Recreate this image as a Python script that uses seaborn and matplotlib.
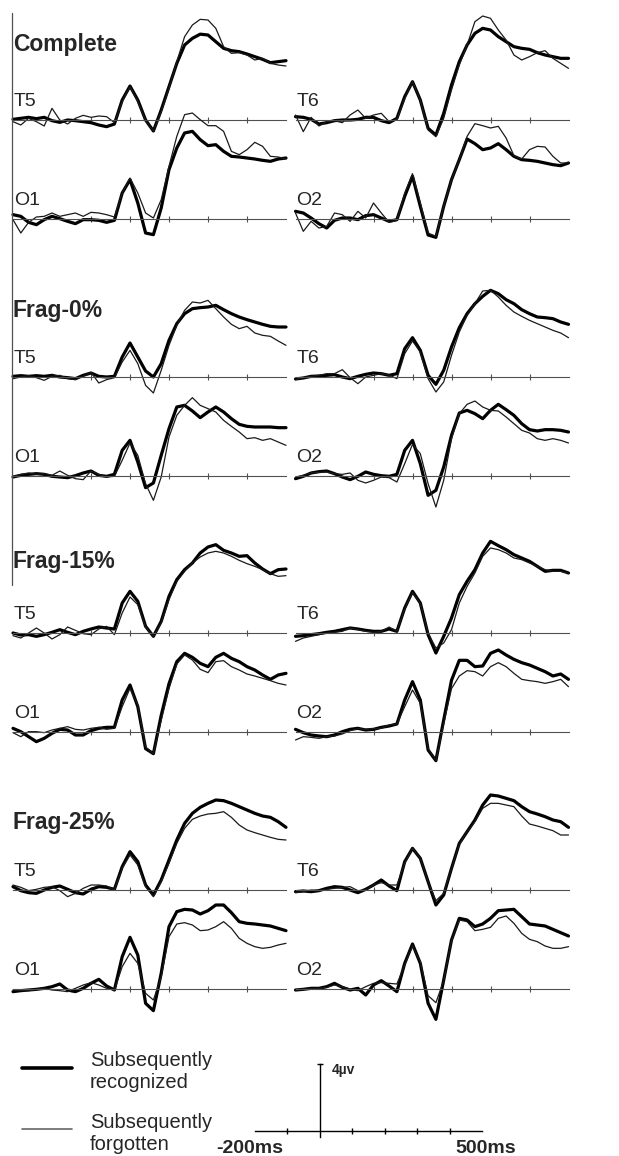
import matplotlib
matplotlib.use("Agg")
import matplotlib.pyplot as plt
import seaborn as sns
from matplotlib.lines import Line2D

# ---------------- data (amplitudes in µV, time in ms) ----------------
times = [-200, -180, -160, -140, -120, -100, -80, -60, -40, -20, 0, 20, 40, 60, 80, 100,
         120, 140, 160, 180, 200, 220, 240, 260, 280, 300, 320, 340, 360, 380, 400, 420,
         440, 460, 480, 500]
conditions = ["Complete", "Frag-0%", "Frag-15%", "Frag-25%"]
electrodes = ["T5", "T6", "O1", "O2"]
legend_labels = ["Subsequently\nrecognized", "Subsequently\nforgotten"]
scale_labels = ["-200ms", "500ms", "4µv"]

complete_T5_rec = [0.04, 0.1, 0.16, 0.08, 0.16, -0.04, -0.14, 0.0, -0.04, -0.1, -0.16, -0.3, -0.4, -0.24, 1.2, 2.04, 1.2, 0.0, -0.66, 0.6, 2.0, 3.4, 4.5, 4.9, 5.15, 5.1, 4.7, 4.3, 4.16, 4.1, 3.96, 3.8, 3.64, 3.44, 3.5, 3.56]
complete_T5_forg = [-0.1, -0.3, 0.1, -0.1, -0.36, 0.7, 0.0, -0.24, 0.1, 0.28, 0.16, 0.24, 0.2, -0.16, 1.1, 2.0, 1.1, -0.04, -0.66, 0.5, 1.9, 3.5, 5.0, 5.7, 6.04, 6.0, 5.5, 4.4, 4.0, 4.04, 3.9, 3.6, 3.7, 3.4, 3.3, 3.24]
complete_O1_rec = [0.26, 0.16, -0.2, -0.34, -0.04, 0.16, 0.02, -0.14, -0.28, -0.04, -0.04, -0.08, -0.2, -0.08, 1.56, 2.36, 0.96, -0.84, -0.94, 0.66, 2.96, 4.26, 5.16, 5.26, 4.76, 4.4, 4.46, 4.06, 3.76, 3.72, 3.66, 3.6, 3.52, 3.46, 3.6, 3.66]
complete_O1_forg = [-0.04, -0.84, -0.2, 0.12, 0.16, 0.36, 0.16, 0.26, 0.36, 0.16, 0.4, 0.36, 0.26, 0.12, 1.56, 2.46, 1.56, 0.36, 0.06, 1.16, 3.16, 4.96, 6.26, 6.36, 5.96, 5.6, 5.6, 5.26, 4.06, 3.86, 4.16, 4.6, 4.36, 3.76, 3.72, 3.6]
complete_T6_rec = [0.2, 0.16, 0.04, -0.24, -0.16, -0.04, 0.0, 0.0, 0.04, 0.16, 0.16, -0.04, -0.16, 0.1, 1.4, 2.3, 1.2, -0.5, -0.9, 0.4, 2.1, 3.5, 4.5, 5.2, 5.5, 5.4, 5.0, 4.7, 4.4, 4.3, 4.24, 4.04, 3.9, 3.8, 3.7, 3.7]
complete_T6_forg = [0.3, -0.7, 0.16, -0.36, -0.1, -0.04, -0.16, 0.3, 0.6, 0.1, 0.3, 0.4, -0.1, 0.04, 1.3, 2.3, 1.2, -0.6, -1.0, 0.1, 1.8, 3.3, 4.5, 5.9, 6.24, 6.1, 5.4, 4.8, 3.9, 3.6, 3.8, 4.04, 4.16, 3.7, 3.4, 3.1]
complete_O2_rec = [0.46, 0.36, 0.06, -0.28, -0.54, -0.08, 0.06, 0.06, -0.04, 0.2, 0.26, 0.06, -0.14, -0.04, 1.36, 2.56, 0.76, -0.96, -1.1, 0.76, 2.36, 3.56, 4.8, 4.52, 4.16, 4.26, 4.52, 4.16, 3.76, 3.56, 3.52, 3.46, 3.36, 3.26, 3.2, 3.36]
complete_O2_forg = [0.36, -0.74, -0.14, -0.54, -0.44, 0.36, 0.26, -0.14, 0.46, 0.06, 0.96, 0.36, -0.2, -0.08, 1.56, 2.72, 0.96, -0.84, -1.04, 0.76, 2.36, 3.56, 4.96, 5.72, 5.6, 5.46, 5.56, 4.86, 3.8, 3.6, 4.16, 4.36, 4.32, 3.76, 3.36, 3.36]

frag0_T5_rec = [0.04, 0.08, 0.04, 0.08, 0.04, 0.1, 0.0, -0.04, -0.1, 0.1, 0.24, 0.04, 0.0, 0.04, 1.2, 2.04, 1.2, 0.36, 0.0, 0.8, 2.2, 3.2, 3.8, 4.1, 4.16, 4.2, 4.3, 4.04, 3.8, 3.6, 3.44, 3.3, 3.16, 3.04, 3.0, 3.0]
frag0_T5_forg = [-0.1, 0.0, 0.08, -0.04, -0.2, 0.04, 0.1, -0.1, -0.16, 0.04, 0.28, -0.36, -0.16, -0.04, 0.9, 1.6, 0.8, -0.5, -0.96, 0.4, 1.9, 3.1, 4.0, 4.5, 4.44, 4.6, 4.1, 3.6, 3.16, 2.9, 3.04, 2.64, 2.5, 2.44, 2.16, 1.9]
frag0_O1_rec = [-0.06, 0.04, 0.1, 0.14, 0.1, -0.02, -0.06, -0.1, 0.02, 0.18, 0.3, 0.04, -0.02, 0.1, 1.54, 2.14, 0.84, -0.7, -0.42, 1.24, 2.84, 4.14, 4.24, 3.9, 3.5, 3.84, 4.14, 3.84, 3.44, 3.1, 2.98, 2.94, 2.94, 2.94, 2.9, 2.9]
frag0_O1_forg = [-0.06, 0.1, 0.18, 0.1, 0.14, 0.04, 0.3, 0.04, -0.16, -0.22, 0.3, 0.1, -0.06, -0.02, 0.94, 1.98, 1.24, -0.46, -1.46, -0.06, 2.34, 3.64, 4.24, 4.7, 4.24, 4.04, 3.84, 3.34, 2.98, 2.64, 2.24, 2.3, 2.14, 2.24, 2.04, 1.84]
frag0_T6_rec = [-0.12, -0.06, 0.04, 0.06, 0.1, 0.14, 0.0, -0.1, 0.04, 0.16, 0.24, 0.2, 0.1, 0.2, 1.7, 2.36, 1.6, 0.1, -0.44, 0.4, 1.8, 2.96, 3.8, 4.4, 4.84, 5.2, 5.0, 4.64, 4.4, 4.04, 3.8, 3.6, 3.56, 3.5, 3.3, 3.16]
frag0_T6_forg = [-0.16, -0.04, 0.04, 0.1, 0.2, 0.2, 0.44, -0.04, -0.4, 0.0, 0.1, 0.2, 0.12, -0.1, 1.4, 2.16, 1.5, -0.1, -0.9, -0.3, 1.3, 2.7, 3.7, 4.4, 5.16, 5.2, 4.8, 4.3, 3.9, 3.64, 3.4, 3.2, 3.0, 2.8, 2.64, 2.36]
frag0_O2_rec = [-0.16, -0.02, 0.18, 0.26, 0.3, 0.14, -0.06, -0.22, -0.02, 0.24, 0.1, 0.02, -0.02, 0.1, 1.54, 2.14, 0.74, -1.16, -0.86, 0.54, 2.44, 3.78, 3.94, 3.74, 3.44, 3.94, 4.3, 3.98, 3.64, 3.14, 2.78, 2.7, 2.78, 2.78, 2.74, 2.64]
frag0_O2_forg = [-0.06, 0.04, 0.18, 0.22, 0.24, 0.14, 0.1, 0.18, -0.26, -0.42, -0.26, -0.06, -0.1, -0.36, 0.74, 1.9, 1.34, -0.46, -1.86, -0.26, 2.24, 3.74, 4.3, 4.5, 4.14, 3.94, 3.9, 3.54, 3.14, 2.74, 2.58, 2.24, 2.14, 2.24, 2.14, 1.98]

frag15_T5_rec = [0.0, -0.12, -0.1, -0.2, -0.1, 0.04, 0.2, 0.04, -0.1, 0.1, 0.24, 0.36, 0.3, 0.24, 1.8, 2.5, 1.9, 0.4, -0.2, 0.7, 2.2, 3.2, 3.8, 4.2, 4.8, 5.16, 5.3, 4.96, 4.8, 4.6, 4.64, 4.2, 3.84, 3.56, 3.8, 3.84]
frag15_T5_forg = [-0.16, -0.3, 0.0, 0.3, 0.0, -0.36, -0.1, 0.36, 0.16, -0.04, -0.1, 0.24, 0.4, -0.1, 1.2, 2.16, 1.7, 0.36, -0.2, 0.6, 2.0, 3.1, 3.7, 4.2, 4.56, 4.8, 4.9, 4.8, 4.6, 4.36, 4.16, 4.0, 3.8, 3.56, 3.4, 3.44]
frag15_O1_rec = [0.22, 0.02, -0.28, -0.58, -0.38, -0.08, 0.16, 0.12, -0.18, -0.18, 0.08, 0.22, 0.28, 0.28, 1.92, 2.82, 1.52, -1.0, -1.3, 1.0, 2.9, 4.22, 4.72, 4.48, 4.12, 3.92, 4.48, 4.72, 4.42, 4.22, 3.92, 3.72, 3.42, 3.16, 3.42, 3.52]
frag15_O1_forg = [-0.04, -0.28, 0.02, 0.02, -0.04, 0.12, 0.22, 0.32, 0.16, 0.12, 0.22, 0.28, 0.16, 0.22, 1.52, 2.62, 1.62, -0.9, -1.3, 0.7, 2.6, 4.08, 4.62, 4.32, 3.76, 3.56, 4.22, 4.28, 3.92, 3.72, 3.48, 3.36, 3.22, 3.08, 2.92, 2.82]
frag15_T6_rec = [-0.2, -0.16, -0.1, -0.04, 0.04, 0.1, 0.2, 0.3, 0.24, 0.16, 0.1, 0.1, 0.24, 0.1, 1.5, 2.5, 1.8, -0.1, -1.2, -0.2, 0.9, 2.3, 3.1, 3.8, 4.8, 5.5, 5.24, 5.0, 4.7, 4.5, 4.3, 4.0, 3.7, 3.76, 3.76, 3.6]
frag15_T6_forg = [-0.5, -0.3, -0.2, -0.1, 0.0, 0.04, 0.1, 0.3, 0.2, 0.1, 0.04, 0.1, 0.36, 0.1, 1.44, 2.44, 1.76, 0.0, -0.9, -0.6, 0.2, 1.8, 2.8, 3.6, 4.6, 5.1, 5.0, 4.8, 4.5, 4.4, 4.2, 4.0, 3.8, 3.7, 3.7, 3.6]
frag15_O2_rec = [0.16, -0.04, -0.18, -0.24, -0.28, -0.18, 0.02, 0.16, 0.22, 0.12, 0.16, 0.28, 0.36, 0.48, 1.92, 3.02, 1.92, -1.08, -1.72, 0.72, 3.1, 4.3, 4.3, 3.92, 3.96, 4.72, 4.92, 4.62, 4.36, 4.16, 4.02, 3.82, 3.62, 3.36, 3.48, 3.16]
frag15_O2_forg = [-0.48, -0.28, -0.32, -0.38, -0.28, -0.24, -0.12, 0.08, 0.2, 0.16, 0.2, 0.22, 0.42, 0.48, 1.52, 2.52, 1.72, -1.0, -1.72, 0.5, 2.6, 3.36, 3.68, 3.62, 3.36, 3.92, 4.16, 3.92, 3.52, 3.16, 3.08, 3.02, 2.92, 3.02, 3.16, 2.72]

frag25_T5_rec = [0.2, -0.04, -0.16, -0.2, 0.0, 0.16, 0.24, 0.04, -0.16, -0.24, 0.04, 0.2, 0.16, 0.04, 1.4, 2.3, 1.7, 0.3, -0.3, 0.6, 1.8, 3.0, 4.0, 4.6, 4.96, 5.2, 5.4, 5.36, 5.2, 5.0, 4.8, 4.6, 4.44, 4.36, 4.1, 3.76]
frag25_T5_forg = [0.3, 0.16, -0.04, 0.04, 0.16, 0.2, -0.04, -0.4, -0.2, 0.1, 0.3, 0.3, 0.24, 0.0, 1.3, 2.1, 1.5, 0.2, -0.4, 0.5, 1.6, 2.8, 3.7, 4.24, 4.44, 4.56, 4.6, 4.7, 4.36, 3.9, 3.6, 3.44, 3.3, 3.16, 3.04, 3.0]
frag25_O1_rec = [-0.16, -0.1, -0.06, -0.02, 0.04, 0.14, 0.3, -0.06, -0.16, 0.04, 0.34, 0.58, 0.18, -0.06, 1.94, 3.1, 2.04, -0.86, -1.3, 0.94, 3.74, 4.64, 4.78, 4.74, 4.5, 4.7, 5.04, 5.04, 4.58, 4.04, 3.94, 3.9, 3.84, 3.78, 3.64, 3.5]
frag25_O1_forg = [-0.06, -0.1, -0.1, -0.02, 0.04, -0.06, -0.1, -0.16, 0.04, 0.24, 0.38, 0.24, 0.04, -0.06, 1.34, 2.14, 1.54, -0.26, -0.66, 0.74, 3.14, 3.9, 3.98, 3.84, 3.5, 3.54, 3.74, 4.04, 3.64, 3.04, 2.74, 2.54, 2.44, 2.5, 2.64, 2.74]
frag25_T6_rec = [-0.1, -0.06, -0.1, -0.04, 0.1, 0.2, 0.16, 0.0, -0.16, 0.04, 0.3, 0.6, 0.24, -0.04, 1.7, 2.5, 1.9, 0.5, -0.9, -0.3, 1.3, 2.8, 3.5, 4.2, 5.1, 5.7, 5.64, 5.5, 5.36, 5.0, 4.7, 4.56, 4.4, 4.2, 4.1, 3.76]
frag25_T6_forg = [-0.16, -0.1, 0.0, -0.04, 0.04, 0.1, 0.16, 0.2, -0.04, 0.0, 0.3, 0.44, 0.3, 0.3, 1.6, 2.5, 1.9, 0.5, -0.64, -0.2, 1.3, 2.76, 3.5, 4.1, 4.9, 5.2, 5.2, 5.1, 5.0, 4.44, 3.96, 3.84, 3.7, 3.56, 3.3, 3.3]
frag25_O2_rec = [-0.06, -0.02, 0.04, 0.04, 0.14, 0.34, 0.1, -0.06, 0.04, -0.36, 0.24, 0.5, 0.18, -0.16, 1.54, 2.7, 1.54, -0.86, -1.82, 0.54, 2.94, 4.24, 4.14, 3.74, 3.9, 4.24, 4.7, 4.74, 4.78, 4.34, 3.9, 3.84, 3.78, 3.58, 3.38, 3.18]
frag25_O2_forg = [-0.06, -0.02, 0.02, 0.04, 0.1, 0.24, 0.14, -0.02, -0.1, 0.14, 0.34, 0.38, 0.34, 0.3, 1.44, 2.6, 1.64, -0.4, -0.82, 0.5, 2.9, 4.14, 4.04, 3.5, 3.58, 3.7, 4.24, 4.38, 3.94, 3.34, 2.98, 2.84, 2.58, 2.44, 2.44, 2.54]

waves = {
    ("Complete", "T5"): (complete_T5_rec, complete_T5_forg),
    ("Complete", "O1"): (complete_O1_rec, complete_O1_forg),
    ("Complete", "T6"): (complete_T6_rec, complete_T6_forg),
    ("Complete", "O2"): (complete_O2_rec, complete_O2_forg),
    ("Frag-0%", "T5"): (frag0_T5_rec, frag0_T5_forg),
    ("Frag-0%", "O1"): (frag0_O1_rec, frag0_O1_forg),
    ("Frag-0%", "T6"): (frag0_T6_rec, frag0_T6_forg),
    ("Frag-0%", "O2"): (frag0_O2_rec, frag0_O2_forg),
    ("Frag-15%", "T5"): (frag15_T5_rec, frag15_T5_forg),
    ("Frag-15%", "O1"): (frag15_O1_rec, frag15_O1_forg),
    ("Frag-15%", "T6"): (frag15_T6_rec, frag15_T6_forg),
    ("Frag-15%", "O2"): (frag15_O2_rec, frag15_O2_forg),
    ("Frag-25%", "T5"): (frag25_T5_rec, frag25_T5_forg),
    ("Frag-25%", "O1"): (frag25_O1_rec, frag25_O1_forg),
    ("Frag-25%", "T6"): (frag25_T6_rec, frag25_T6_forg),
    ("Frag-25%", "O2"): (frag25_O2_rec, frag25_O2_forg),
}

# ---------------- style / layout ----------------
sns.set_style("white")
plt.rcParams["font.family"] = ["Liberation Sans", "DejaVu Sans"]

W, H = 619, 1156
fig = plt.figure(figsize=(W / 100, H / 100), dpi=100)


def fx(px):
    return px / W


def fy(py):
    return 1 - py / H


row_T_base = [120, 377, 633, 890]
row_gap = 99
cond_label_y = [45, 310, 561, 822]
col_x0 = {"T5": 13, "O1": 13, "T6": 295.5, "O2": 295.5}
panel_w = 273
above, below = 120, 40          # pixels above / below the baseline
uv_per_px = 0.06
AX_GRAY = "#505050"

for ci, cond in enumerate(conditions):
    tb = row_T_base[ci]
    fig.text(fx(13), fy(cond_label_y[ci]), cond, fontsize=16.5, fontweight="bold",
             ha="left", va="center")
    for el in electrodes:
        base = tb if el in ("T5", "T6") else tb + row_gap
        x0 = col_x0[el]
        ax = fig.add_axes([fx(x0), fy(base + below), panel_w / W, (above + below) / H])
        ax.patch.set_visible(False)
        ax.set_xlim(-200, 500)
        ax.set_ylim(-below * uv_per_px, above * uv_per_px)
        rec, forg = waves[(cond, el)]
        sns.lineplot(x=times, y=rec, ax=ax, color="black", linewidth=2.3,
                     estimator=None, sort=False, clip_on=False)
        sns.lineplot(x=times, y=forg, ax=ax, color="#1a1a1a", linewidth=0.9,
                     estimator=None, sort=False, clip_on=False)
        ax.set_xlabel("")
        ax.set_ylabel("")
        for s in ("left", "right", "top"):
            ax.spines[s].set_visible(False)
        ax.spines["bottom"].set_position(("data", 0))
        ax.spines["bottom"].set_color(AX_GRAY)
        ax.spines["bottom"].set_linewidth(0.8)
        ax.set_xticks([0, 100, 200, 300, 400])
        ax.set_yticks([])
        ax.tick_params(axis="x", direction="inout", length=4, width=0.8,
                       color=AX_GRAY, labelbottom=False, bottom=True)
        fig.text(fx(x0 + 1), fy(base - 14), el, fontsize=14, ha="left", va="baseline")

# vertical rule on the left
fig.add_artist(Line2D([fx(12), fx(12)], [fy(13), fy(585)], color=AX_GRAY,
                      linewidth=0.9, transform=fig.transFigure))

# legend
fig.add_artist(Line2D([fx(22), fx(72)], [fy(1068), fy(1068)], color="black",
                      linewidth=2.6, transform=fig.transFigure))
fig.add_artist(Line2D([fx(22), fx(72)], [fy(1129), fy(1129)], color="#666666",
                      linewidth=1.2, transform=fig.transFigure))
fig.text(fx(90), fy(1071), legend_labels[0], fontsize=14.5, ha="left", va="center",
         linespacing=1.2)
fig.text(fx(90), fy(1133), legend_labels[1], fontsize=14.5, ha="left", va="center",
         linespacing=1.2)

# scale bar
px_per_uv = 16.75
sb_lo, sb_hi = -0.55, 4.3
sax = fig.add_axes([fx(255), fy(1131 - sb_lo * px_per_uv), 227 / W,
                    (sb_hi - sb_lo) * px_per_uv / H])
sax.patch.set_visible(False)
sax.set_xlim(-200, 500)
sax.set_ylim(sb_lo, sb_hi)
for s in ("right", "top"):
    sax.spines[s].set_visible(False)
sax.spines["bottom"].set_position(("data", 0))
sax.spines["left"].set_position(("data", 0))
sax.spines["left"].set_bounds(-0.36, 4)
for s in ("bottom", "left"):
    sax.spines[s].set_color("black")
    sax.spines[s].set_linewidth(1.0)
sax.set_xticks([-100, 100, 200, 300, 400])
sax.set_yticks([4])
sax.tick_params(direction="inout", length=5, width=1.0, color="black",
                labelbottom=False, labelleft=False, bottom=True, left=True)
sax.text(-215, -0.55, scale_labels[0], fontsize=14, fontweight="bold", ha="center", va="top")
sax.text(512, -0.55, scale_labels[1], fontsize=14, fontweight="bold", ha="center", va="top")
sax.text(38, 3.65, scale_labels[2], fontsize=10, fontweight="bold", ha="left", va="center")

fig.savefig("out.png", dpi=100, facecolor="white")
